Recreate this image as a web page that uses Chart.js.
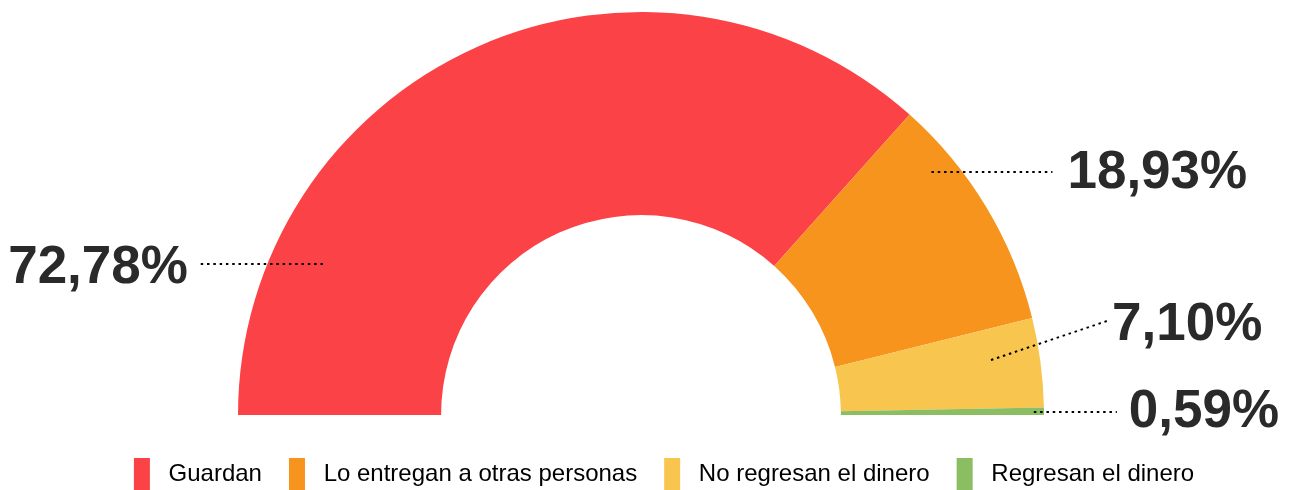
<!DOCTYPE html>
<html>
<head>
<meta charset="utf-8">
<script src="https://cdn.jsdelivr.net/npm/chart.js@4"></script>
<style>
  html, body { margin: 0; padding: 0; background: #fff; }
  #wrap { width: 1290px; height: 490px; }
</style>
</head>
<body>
<div id="wrap"><canvas id="halfChart"></canvas></div>
<script>
const labels = ['Guardan', 'Lo entregan a otras personas', 'No regresan el dinero', 'Regresan el dinero'];
const values = [72.78, 18.93, 7.10, 0.59];
const valueText = ['72,78%', '18,93%', '7,10%', '0,59%'];
const colors = ['#FB4347', '#F7941E', '#F8C54F', '#8BBE62'];

// where each leader line starts inside its slice, and where the label goes
const callouts = [
  { along: 0.193, depth: 0.75, dx: -123, dy: 0, tx: -12, ty: 19, align: 'right' },
  { along: 0.242, depth: 0.88, dx: 121, dy: 0, tx: 15, ty: 16, align: 'left' },
  { along: 0.39, depth: 0.76, dx: 116, dy: -39, tx: 5, ty: 19, align: 'left' },
  { along: 0.63, depth: 0.95, dx: 83, dy: 0, tx: 12, ty: 15, align: 'left' }
];

const calloutPlugin = {
  id: 'callouts',
  afterLayout(chart) {
    // nudge the legend a bit right and down, like the original
    const lg = chart.legend;
    lg.left += 23; lg.right += 23;
    lg.top += 16; lg.bottom += 16;
  },
  afterDatasetsDraw(chart) {
    const ctx = chart.ctx;
    const arcs = chart.getDatasetMeta(0).data;
    ctx.save();
    arcs.forEach((arc, i) => {
      const c = callouts[i];
      const p = arc.getProps(['x', 'y', 'startAngle', 'endAngle', 'innerRadius', 'outerRadius'], true);
      const a = p.startAngle + (p.endAngle - p.startAngle) * c.along;
      const r = p.innerRadius + (p.outerRadius - p.innerRadius) * c.depth;
      const x0 = p.x + Math.cos(a) * r;
      const y0 = Math.round(p.y + Math.sin(a) * r);
      const x1 = x0 + c.dx;
      const y1 = y0 + c.dy;
      ctx.beginPath();
      ctx.setLineDash([2.5, 3.8]);
      ctx.lineWidth = 2;
      ctx.strokeStyle = '#000';
      ctx.moveTo(x0, y0);
      ctx.lineTo(x1, y1);
      ctx.stroke();
      ctx.setLineDash([]);
      ctx.font = 'bold 53px "Liberation Sans", Arial, sans-serif';
      ctx.fillStyle = '#2a2a2a';
      ctx.textAlign = c.align;
      ctx.textBaseline = 'alphabetic';
      ctx.fillText(valueText[i], x1 + c.tx, y1 + c.ty);
    });
    ctx.restore();
  }
};

const ctx = document.getElementById('halfChart').getContext('2d');
new Chart(ctx, {
  type: 'doughnut',
  data: {
    labels: labels,
    datasets: [{
      data: values,
      backgroundColor: colors,
      borderWidth: 0,
      hoverOffset: 0
    }]
  },
  options: {
    responsive: true,
    maintainAspectRatio: false,
    animation: false,
    rotation: -90,
    circumference: 180,
    cutout: '49.6%',
    layout: {
      padding: { top: 12, left: 0, right: 8, bottom: 6 }
    },
    plugins: {
      tooltip: { enabled: false },
      legend: {
        position: 'bottom',
        labels: {
          boxWidth: 16,
          boxHeight: 32,
          padding: 27,
          color: '#222',
          font: { family: '"Liberation Sans", Arial, sans-serif', size: 24 },
          generateLabels(chart) {
            return chart.data.labels.map((l, i) => ({
              text: ' ' + l,
              fillStyle: colors[i],
              strokeStyle: colors[i],
              lineWidth: 0,
              index: i
            }));
          }
        }
      }
    }
  },
  plugins: [calloutPlugin]
});
</script>
</body>
</html>
